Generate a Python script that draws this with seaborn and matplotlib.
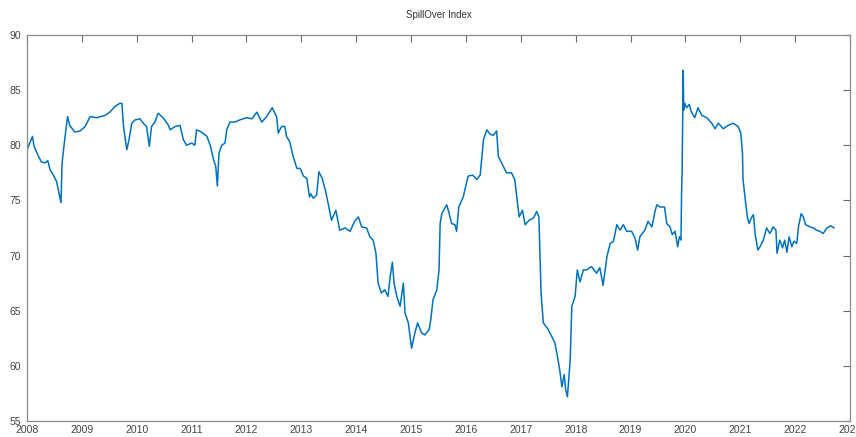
import pandas as pd
import matplotlib
matplotlib.use('Agg')
import matplotlib.pyplot as plt
import seaborn as sns

# SpillOver Index (decimal year, index value)
years = [2008.01, 2008.10, 2008.13, 2008.21, 2008.26, 2008.33, 2008.38, 2008.42, 2008.48, 2008.54,
         2008.62, 2008.64, 2008.68, 2008.74, 2008.78, 2008.87, 2008.97, 2009.06, 2009.15, 2009.27,
         2009.42, 2009.51, 2009.60, 2009.69, 2009.73, 2009.76, 2009.79, 2009.82, 2009.86, 2009.91,
         2009.97, 2010.06, 2010.12, 2010.18, 2010.23, 2010.27, 2010.33, 2010.39, 2010.48, 2010.58,
         2010.61, 2010.70, 2010.79, 2010.85, 2010.91, 2011.00, 2011.06, 2011.09, 2011.18, 2011.28,
         2011.34, 2011.40, 2011.44, 2011.47, 2011.50, 2011.55, 2011.61, 2011.64, 2011.70, 2011.79,
         2011.88, 2012.00, 2012.10, 2012.19, 2012.28, 2012.37, 2012.47, 2012.55, 2012.58, 2012.64,
         2012.70, 2012.73, 2012.79, 2012.85, 2012.92, 2012.98, 2013.04, 2013.10, 2013.15, 2013.17,
         2013.22, 2013.28, 2013.32, 2013.38, 2013.44, 2013.49, 2013.55, 2013.63, 2013.67, 2013.70,
         2013.80, 2013.89, 2013.97, 2014.04, 2014.10, 2014.19, 2014.25, 2014.31, 2014.36, 2014.40,
         2014.46, 2014.52, 2014.58, 2014.62, 2014.66, 2014.69, 2014.74, 2014.80, 2014.86, 2014.89,
         2014.95, 2015.01, 2015.07, 2015.12, 2015.19, 2015.25, 2015.33, 2015.36, 2015.40, 2015.47,
         2015.51, 2015.53, 2015.56, 2015.65, 2015.69, 2015.74, 2015.80, 2015.83, 2015.87, 2015.95,
         2016.04, 2016.12, 2016.20, 2016.26, 2016.32, 2016.38, 2016.44, 2016.50, 2016.56, 2016.59,
         2016.65, 2016.74, 2016.83, 2016.89, 2016.92, 2016.97, 2017.03, 2017.08, 2017.15, 2017.23,
         2017.29, 2017.33, 2017.37, 2017.41, 2017.50, 2017.56, 2017.62, 2017.67, 2017.71, 2017.75,
         2017.79, 2017.82, 2017.85, 2017.90, 2017.93, 2017.99, 2018.03, 2018.08, 2018.14, 2018.20,
         2018.29, 2018.38, 2018.44, 2018.50, 2018.57, 2018.63, 2018.69, 2018.75, 2018.81, 2018.87,
         2018.93, 2019.02, 2019.08, 2019.13, 2019.17, 2019.26, 2019.32, 2019.39, 2019.45, 2019.48,
         2019.54, 2019.62, 2019.66, 2019.72, 2019.76, 2019.81, 2019.86, 2019.89, 2019.92, 2019.93,
         2019.94, 2019.96, 2019.97, 2019.99, 2020.02, 2020.07, 2020.11, 2020.17, 2020.23, 2020.30,
         2020.39, 2020.48, 2020.54, 2020.60, 2020.69, 2020.78, 2020.87, 2020.96, 2021.01, 2021.04,
         2021.05, 2021.10, 2021.13, 2021.16, 2021.21, 2021.24, 2021.27, 2021.32, 2021.36, 2021.42,
         2021.48, 2021.54, 2021.60, 2021.65, 2021.67, 2021.72, 2021.77, 2021.81, 2021.85, 2021.89,
         2021.94, 2021.98, 2022.03, 2022.06, 2022.11, 2022.15, 2022.19, 2022.27, 2022.33, 2022.39,
         2022.45, 2022.51, 2022.58, 2022.65, 2022.71]
spillover = [79.7, 80.8, 79.9, 79.0, 78.5, 78.4, 78.6, 77.8, 77.3, 76.7,
             74.8, 78.4, 80.2, 82.6, 81.8, 81.2, 81.3, 81.7, 82.6, 82.5,
             82.7, 83.0, 83.5, 83.8, 83.8, 81.7, 80.6, 79.6, 80.5, 82.0,
             82.3, 82.4, 82.0, 81.7, 79.9, 81.7, 82.1, 82.9, 82.5, 81.8,
             81.4, 81.7, 81.8, 80.5, 80.0, 80.2, 80.0, 81.4, 81.2, 80.8,
             80.0, 78.7, 78.1, 76.3, 79.3, 80.0, 80.2, 81.4, 82.1, 82.1,
             82.3, 82.5, 82.4, 83.0, 82.1, 82.6, 83.4, 82.6, 81.1, 81.7,
             81.7, 80.8, 80.3, 79.0, 77.9, 77.9, 77.2, 77.0, 75.3, 75.6,
             75.2, 75.5, 77.6, 77.0, 75.9, 74.7, 73.2, 74.1, 73.1, 72.3,
             72.5, 72.2, 73.1, 73.5, 72.6, 72.5, 71.7, 71.4, 70.2, 67.5,
             66.6, 66.9, 66.3, 68.1, 69.4, 67.5, 66.3, 65.4, 67.5, 64.8,
             63.9, 61.6, 63.0, 63.9, 63.0, 62.8, 63.3, 64.2, 66.0, 66.9,
             68.7, 72.9, 73.8, 74.6, 73.9, 72.9, 72.8, 72.2, 74.4, 75.3,
             77.2, 77.3, 76.9, 77.3, 80.5, 81.4, 81.0, 80.9, 81.3, 79.0,
             78.4, 77.5, 77.5, 76.9, 75.6, 73.5, 74.1, 72.8, 73.2, 73.4,
             74.0, 73.5, 66.6, 63.9, 63.3, 62.7, 62.1, 60.8, 59.6, 58.1,
             59.2, 57.8, 57.2, 60.5, 65.4, 66.3, 68.7, 67.6, 68.7, 68.7,
             69.0, 68.4, 68.9, 67.3, 69.9, 71.1, 71.3, 72.8, 72.3, 72.8,
             72.2, 72.2, 71.6, 70.5, 71.7, 72.3, 73.1, 72.6, 74.1, 74.6,
             74.4, 74.4, 72.9, 72.6, 71.9, 72.2, 70.8, 71.7, 71.4, 75.6,
             77.5, 86.8, 83.2, 83.8, 83.4, 83.7, 83.0, 82.5, 83.4, 82.7,
             82.5, 82.0, 81.5, 82.0, 81.5, 81.8, 82.0, 81.7, 81.1, 79.3,
             76.9, 74.7, 73.5, 72.9, 73.5, 73.7, 72.0, 70.5, 70.8, 71.4,
             72.5, 72.0, 72.6, 72.3, 70.2, 71.4, 70.7, 71.4, 70.3, 71.7,
             70.8, 71.3, 71.1, 72.6, 73.8, 73.5, 72.8, 72.6, 72.5, 72.3,
             72.2, 72.0, 72.5, 72.7, 72.5]

year_ticks = list(range(2008, 2024))
y_ticks = [55, 60, 65, 70, 75, 80, 85, 90]

sns.set_style('white')
plt.rcParams['font.family'] = ['Liberation Sans', 'DejaVu Sans']

df = pd.DataFrame({'year': years, 'index': spillover})

fig = plt.figure(figsize=(8.56, 4.37), dpi=100)
ax = fig.add_axes([0.0315, 0.0366, 0.9615, 0.8834])

sns.lineplot(data=df, x='year', y='index', color='#0072BD', linewidth=1.1, ax=ax)

ax.set_xlim(2008, 2023)
ax.set_ylim(55, 90)
ax.set_xticks(year_ticks)
ax.set_xticklabels([str(y) for y in year_ticks])
ax.set_yticks(y_ticks)
ax.set_xlabel('')
ax.set_ylabel('')
ax.set_title('SpillOver Index', fontsize=7, color='#333333', pad=12)

ax.tick_params(direction='in', length=5, width=0.8, colors='#666666',
               labelcolor='#444444', labelsize=7.5, top=True, right=True)
ax.tick_params(axis='x', pad=3)
ax.tick_params(axis='y', pad=4)
for side in ax.spines.values():
    side.set_color('#8a8a8a')
    side.set_linewidth(0.9)

plt.savefig('out.png', dpi=100)
